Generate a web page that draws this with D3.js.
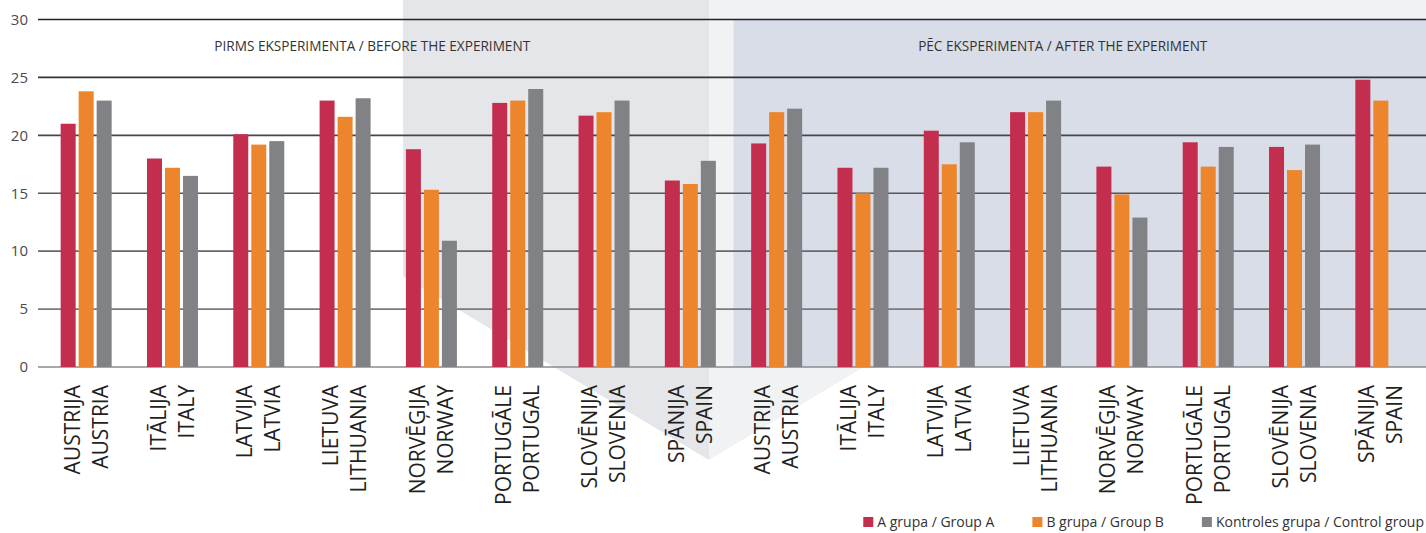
<!DOCTYPE html>
<html>
<head>
<meta charset="utf-8">
<script src="https://cdn.jsdelivr.net/npm/d3@7"></script>
<style>
  body { margin: 0; background: #fff; }
  svg { display: block; font-family: "Open Sans", sans-serif; }
</style>
</head>
<body>
<div id="chart"></div>
<script>
// Data
////////////////////////////////////////////////////////////////////
const countriesLv = ["AUSTRIJA", "ITĀLIJA", "LATVIJA", "LIETUVA", "NORVĒĢIJA", "PORTUGĀLE", "SLOVĒNIJA", "SPĀNIJA"];
const countriesEn = ["AUSTRIA", "ITALY", "LATVIA", "LITHUANIA", "NORWAY", "PORTUGAL", "SLOVENIA", "SPAIN"];

// before (first 8) then after (last 8)
const groupA = [21.0, 18.0, 20.1, 23.0, 18.8, 22.8, 21.7, 16.1,
                19.3, 17.2, 20.4, 22.0, 17.3, 19.4, 19.0, 24.8];
const groupB = [23.8, 17.2, 19.2, 21.6, 15.3, 23.0, 22.0, 15.8,
                22.0, 15.0, 17.5, 22.0, 14.9, 17.3, 17.0, 23.0];
const groupC = [23.0, 16.5, 19.5, 23.2, 10.9, 24.0, 23.0, 17.8,
                22.3, 17.2, 19.4, 23.0, 12.9, 19.0, 19.2, null];

const seriesNames = ["A grupa / Group A", "B grupa / Group B", "Kontroles grupa / Control group"];
const seriesColors = ["#c42e4e", "#ed852c", "#818286"];
const phaseTitles = ["PIRMS EKSPERIMENTA / BEFORE THE EXPERIMENT", "PĒC EKSPERIMENTA / AFTER THE EXPERIMENT"];
const yTicks = [0, 5, 10, 15, 20, 25, 30];

const groups = d3.range(16).map((i) => ({
  i,
  lv: countriesLv[i % 8],
  en: countriesEn[i % 8],
  values: [groupA[i], groupB[i], groupC[i]],
}));

// Dimensions
////////////////////////////////////////////////////////////////////
const dimensions = { width: 1426, height: 533 };
const plot = { left: 43, right: 1424, line: 38, top: 19.5, bottom: 367 };

const svg = d3
  .select("#chart")
  .append("svg")
  .attr("width", dimensions.width)
  .attr("height", dimensions.height);

// Scales
////////////////////////////////////////////////////////////////////
const x0 = d3.scaleBand().domain(groups.map((d) => d.i)).range([plot.left, plot.right]);
const x1 = d3.scaleBand().domain([0, 1, 2]).range([-25.5, 25.5]).paddingInner(1 / 6);
const y = d3.scaleLinear().domain([0, 30]).range([plot.bottom, plot.top]);

// Backgrounds (before arrow, after arrow, after panel)
////////////////////////////////////////////////////////////////////
const split = 709;
const tipY = 460;
const bg = svg.append("g");
bg.append("polygon")
  .attr("points", [[403, 0], [split, 0], [split, tipY], [403, tipY - (split - 403) * 0.6]].join(" "))
  .attr("fill", "#e5e6e9");
bg.append("polygon")
  .attr("points", [[split, 0], [dimensions.width, 0], [dimensions.width, tipY - (dimensions.width - split) * 0.6], [split, tipY]].join(" "))
  .attr("fill", "#f1f2f4");
bg.append("rect")
  .attr("x", x0(8))
  .attr("y", y(30))
  .attr("width", dimensions.width - x0(8))
  .attr("height", y(0) - y(30))
  .attr("fill", "#d9dde8");

// Grid + y axis
////////////////////////////////////////////////////////////////////
const gridColor = d3.scaleLinear().domain([0, 30]).range(["#8a8b8e", "#232325"]);
svg.append("g")
  .selectAll("line")
  .data(yTicks)
  .join("line")
  .attr("x1", plot.line)
  .attr("x2", dimensions.width)
  .attr("y1", (d) => y(d))
  .attr("y2", (d) => y(d))
  .attr("stroke", (d) => gridColor(d))
  .attr("stroke-width", 1.6);

const yAxis = d3.axisLeft(y).tickValues(yTicks).tickSize(0).tickPadding(0);
const yAxisGroup = svg.append("g").attr("transform", "translate(28,0)").call(yAxis);
yAxisGroup.select(".domain").remove();
yAxisGroup.selectAll("text")
  .attr("fill", "#4a4a4c")
  .style("font-size", "15px")
  .style("font-family", "Open Sans, sans-serif");

// Phase titles
////////////////////////////////////////////////////////////////////
svg.selectAll(".phase")
  .data(phaseTitles)
  .join("text")
  .attr("class", "phase")
  .attr("x", (d, k) => (x0(k * 8) + x0(k * 8 + 7) + x0.bandwidth()) / 2 - 16)
  .attr("y", 51)
  .attr("text-anchor", "middle")
  .attr("fill", "#333")
  .style("font-size", "13.6px")
  .text((d) => d);

// Bars
////////////////////////////////////////////////////////////////////
const groupG = svg.append("g")
  .selectAll("g")
  .data(groups)
  .join("g")
  .attr("transform", (d) => `translate(${x0(d.i) + x0.bandwidth() / 2},0)`);

groupG.selectAll("rect")
  .data((d) => d.values.map((v, k) => ({ v, k })).filter((e) => e.v != null))
  .join("rect")
  .attr("x", (e) => x1(e.k))
  .attr("width", x1.bandwidth())
  .attr("y", (e) => y(e.v))
  .attr("height", (e) => y(0) - y(e.v))
  .attr("fill", (e) => seriesColors[e.k]);

// Category labels (two lines, rotated)
////////////////////////////////////////////////////////////////////
groupG.each(function (d) {
  const g = d3.select(this);
  [d.lv, d.en].forEach((t, k) => {
    g.append("text")
      .attr("transform", `translate(${k === 0 ? -14 : 14},385) rotate(-90)`)
      .attr("dy", "0.35em")
      .attr("text-anchor", "end")
      .attr("fill", "#231f20")
      .style("font-size", "21px")
      .text(t);
  });
});

// Legend
////////////////////////////////////////////////////////////////////
const legend = svg.append("g");
const items = legend.selectAll("g")
  .data(seriesNames)
  .join("g");
items.append("rect")
  .attr("width", 10)
  .attr("height", 10)
  .attr("y", 517)
  .attr("fill", (d, k) => seriesColors[k]);
items.append("text")
  .attr("x", 14)
  .attr("y", 527)
  .attr("fill", "#333")
  .style("font-size", "14px")
  .text((d) => d);

// lay out right to left, ending at the plot's right edge
let cursor = plot.right;
const nodes = items.nodes();
for (let k = nodes.length - 1; k >= 0; k--) {
  const w = 14 + d3.select(nodes[k]).select("text").node().getComputedTextLength();
  cursor -= w;
  d3.select(nodes[k]).attr("transform", `translate(${cursor},0)`);
  cursor -= 38;
}
</script>
</body>
</html>
